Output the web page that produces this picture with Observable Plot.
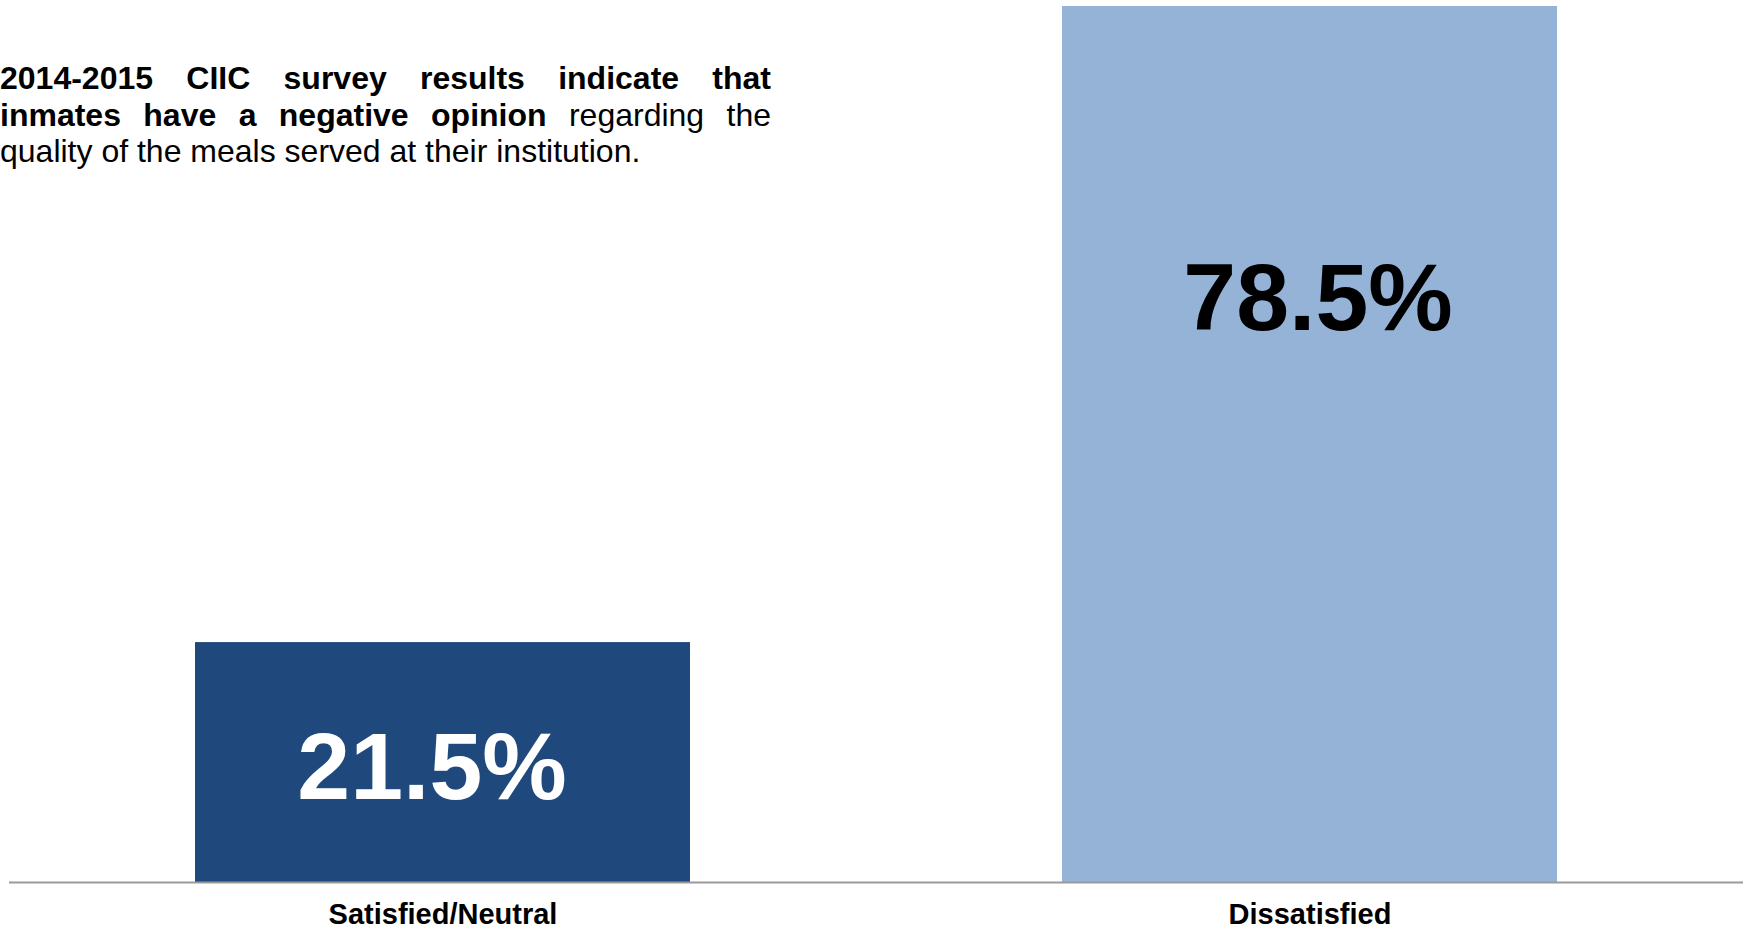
<!DOCTYPE html>
<html><head><meta charset="utf-8">
<script src="https://cdn.jsdelivr.net/npm/d3@7"></script>
<script src="https://cdn.jsdelivr.net/npm/@observablehq/plot@0.6"></script>
<style>
body{margin:0;background:#fff;font-family:"Liberation Sans",Arial,sans-serif;}
#wrap{position:relative;width:1749px;height:930px;}
#note{position:absolute;left:0;top:60px;width:771px;font-size:32px;line-height:36.6px;color:#000;z-index:2;}
#note div{text-align:justify;text-align-last:justify;white-space:nowrap;}
#note div.last{text-align:left;text-align-last:left;}
#chart{position:absolute;left:0;top:0;}
</style></head><body>
<div id="wrap"><div id="chart"></div><div id="note"><div><b>2014-2015 CIIC survey results indicate that</b></div><div><b>inmates have a negative opinion</b> regarding the</div><div class="last">quality of the meals served at their institution.</div></div></div>
<script>
const categories = ["Satisfied/Neutral", "Dissatisfied"];
const values = [21.5, 78.5];
const valueLabels = ["21.5%", "78.5%"];
const barColors = ["#1F497D", "#95B3D7"];
const labelColors = ["#ffffff", "#000000"];

const data = categories.map((c, i) => ({category: c, value: values[i], label: valueLabels[i], labelColor: labelColors[i]}));

const chart = Plot.plot({
  width: 1749,
  height: 930,
  marginTop: 6,
  marginBottom: 48,
  marginLeft: 9,
  marginRight: 6,
  style: {fontFamily: "'Liberation Sans', Arial, sans-serif", background: "#fff", color: "#000"},
  x: {domain: categories, paddingInner: 0.429, paddingOuter: 0.2145, label: null},
  y: {domain: [0, 78.5], axis: null},
  color: {domain: categories, range: barColors},
  marks: [
    Plot.barY(data, {x: "category", y: "value", fill: "category"}),
    Plot.ruleY([0], {stroke: "#9a9a9a", strokeWidth: 2}),
    Plot.axisX({tickSize: 0, tickPadding: 21, fontSize: 29, fontWeight: "bold", label: null}),
    Plot.text([data[0]], {x: "category", y: "value", text: "label", fill: "labelColor", fontSize: 95, fontWeight: "bold", dy: 126, dx: -11}),
    Plot.text([data[1]], {x: "category", y: "value", text: "label", fill: "labelColor", fontSize: 95, fontWeight: "bold", dy: 293, dx: 8})
  ]
});
document.getElementById("chart").appendChild(chart);
</script>
</body></html>
